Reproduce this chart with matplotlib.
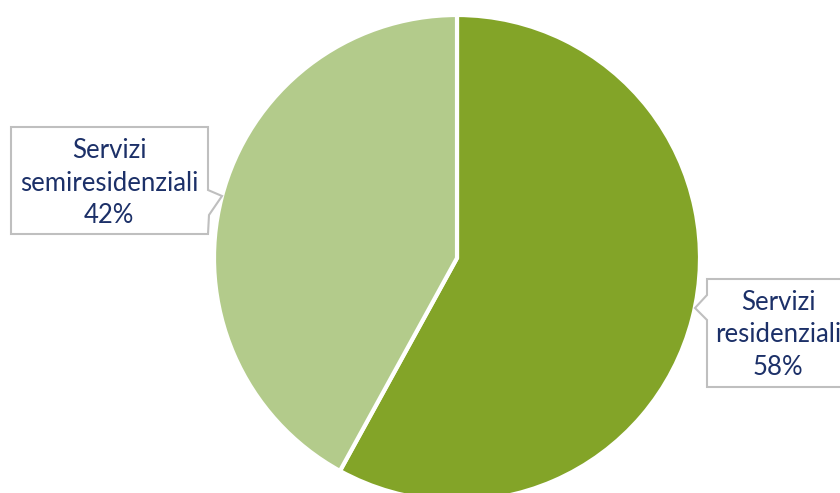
import matplotlib.pyplot as plt
from matplotlib.patches import Polygon

# data
labels = ['Servizi residenziali', 'Servizi semiresidenziali']
shares = [58, 42]
colors = ['#83A428', '#B3CB8B']

# callout text lines (per slice)
callouts = [
    ['Servizi', 'residenziali', '58%'],
    ['Servizi', 'semiresidenziali', '42%'],
]

W, H = 840, 493
fig = plt.figure(figsize=(W / 100, H / 100), dpi=100)
ax = fig.add_axes([0, 0, 1, 1])
ax.set_aspect('equal')

cx, cy, r = 457, 258, 243
# y-axis is flipped below, so counterclock=True draws clockwise on screen
ax.pie(shares, colors=colors, center=(cx, cy), radius=r, startangle=-90,
       counterclock=True, frame=True,
       wedgeprops=dict(edgecolor='white', linewidth=3))
ax.set_xlim(0, W)
ax.set_ylim(H, 0)
ax.axis('off')

edge = '#BFBFBF'
txt = '#1C3068'

# left callout (semiresidenziali), pointer on right side
left_box = [(11, 127), (208, 127), (208, 190), (222, 196), (209, 215),
            (208, 234), (11, 234)]
ax.add_patch(Polygon(left_box, closed=True, facecolor='white',
                     edgecolor=edge, linewidth=1.5, zorder=3))
# right callout (residenziali), pointer on left side
right_box = [(707, 279), (850, 279), (850, 387), (707, 387), (707, 320),
             (695, 308), (707, 295)]
ax.add_patch(Polygon(right_box, closed=True, facecolor='white',
                     edgecolor=edge, linewidth=1.5, zorder=3))

font = ['Lato', 'DejaVu Sans']
for (x, ys), lines in zip([(778, [310, 342, 375]), (109, [158, 191, 223])],
                          callouts):
    for y, s in zip(ys, lines):
        ax.text(x, y, s, ha='center', va='baseline', fontsize=18.5,
                color=txt, family=font, zorder=4)

fig.savefig('out.png', dpi=100)
